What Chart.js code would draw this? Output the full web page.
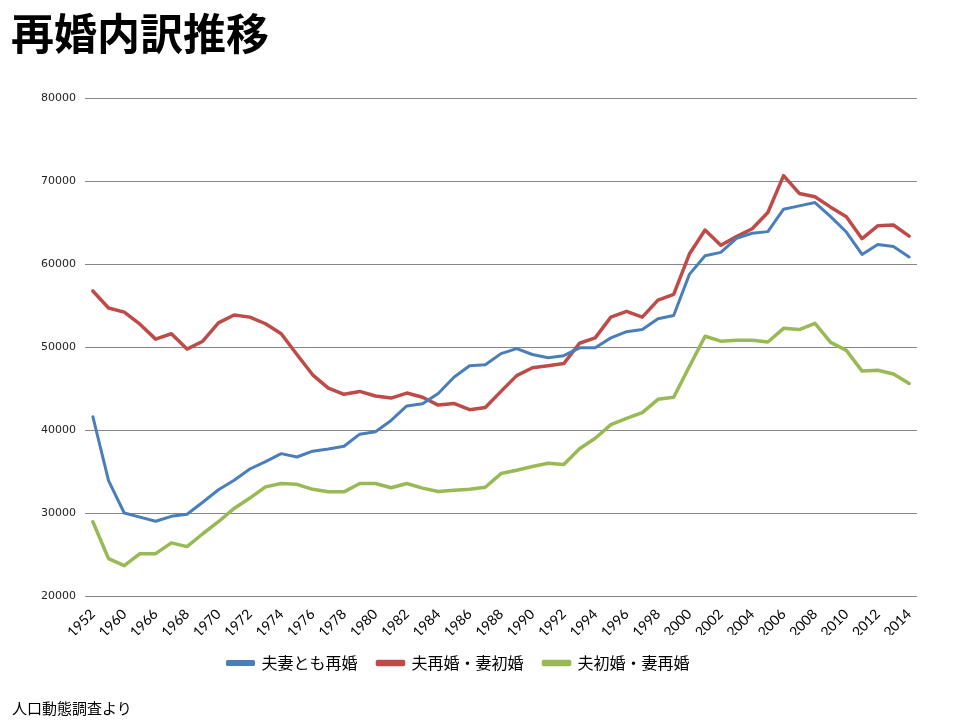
<!DOCTYPE html>
<html>
<head>
<meta charset="utf-8">
<script src="https://cdn.jsdelivr.net/npm/chart.js@4.4.1/dist/chart.umd.min.js"></script>
<style>
  body { margin: 0; background: #fff; }
  #wrap { position: relative; width: 960px; height: 720px; }
  #title { position: absolute; left: 11px; top: 10px; font: bold 43px "Noto Sans CJK JP"; line-height: 1; color: #000; }
  #source { position: absolute; left: 12px; top: 700px; font: 15px "Noto Sans CJK JP"; line-height: 1; color: #000; }
</style>
</head>
<body>
<div id="wrap">
  <canvas id="remarriage_chart" width="960" height="720"></canvas>
  <div id="title">再婚内訳推移</div>
  <div id="source">人口動態調査より</div>
</div>
<script>
var years = ["1952", "1955", "1960", "1965", "1966", "1967", "1968", "1969", "1970", "1971",
  "1972", "1973", "1974", "1975", "1976", "1977", "1978", "1979", "1980", "1981",
  "1982", "1983", "1984", "1985", "1986", "1987", "1988", "1989", "1990", "1991",
  "1992", "1993", "1994", "1995", "1996", "1997", "1998", "1999", "2000", "2001",
  "2002", "2003", "2004", "2005", "2006", "2007", "2008", "2009", "2010", "2011",
  "2012", "2013", "2014"];

// 夫妻とも再婚
var bothRemarried = [41600, 33900, 30000, 29500, 29000, 29600, 29850, 31300, 32800, 33950,
  35300, 36200, 37150, 36750, 37450, 37700, 38050, 39500, 39800, 41150,
  42900, 43150, 44400, 46350, 47750, 47850, 49200, 49800, 49100, 48700,
  48950, 49900, 49900, 51100, 51850, 52100, 53400, 53800, 58750, 61000,
  61400, 63100, 63700, 63900, 66600, 67000, 67400, 65700, 63850, 61150,
  62350, 62100, 60850];

// 夫再婚・妻初婚
var husbandRemarried = [56750, 54700, 54200, 52750, 50950, 51600, 49750, 50700, 52900, 53850,
  53600, 52800, 51600, 49100, 46650, 45050, 44300, 44650, 44100, 43850,
  44450, 43950, 43000, 43200, 42450, 42700, 44650, 46550, 47500, 47750,
  48000, 50450, 51100, 53600, 54300, 53600, 55650, 56350, 61200, 64100,
  62250, 63300, 64250, 66200, 70650, 68500, 68100, 66850, 65700, 63050,
  64600, 64700, 63350];

// 夫初婚・妻再婚
var wifeRemarried = [28950, 24500, 23650, 25100, 25100, 26400, 25950, 27500, 28950, 30550,
  31800, 33150, 33550, 33450, 32850, 32550, 32550, 33550, 33550, 33050,
  33550, 33000, 32600, 32750, 32850, 33100, 34750, 35150, 35600, 36000,
  35850, 37750, 39000, 40650, 41400, 42100, 43700, 43950, 47650, 51300,
  50700, 50800, 50800, 50600, 52250, 52100, 52850, 50550, 49600, 47100,
  47200, 46750, 45600];

var seriesNames = ["夫妻とも再婚", "夫再婚・妻初婚", "夫初婚・妻再婚"];
var seriesColors = ["#4A7EBB", "#BE4B48", "#98B954"];

var dataLine = {
  labels: years,
  datasets: [
    { label: seriesNames[0], data: bothRemarried, borderColor: seriesColors[0], backgroundColor: seriesColors[0], borderWidth: 3 },
    { label: seriesNames[1], data: husbandRemarried, borderColor: seriesColors[1], backgroundColor: seriesColors[1], borderWidth: 3.5 },
    { label: seriesNames[2], data: wifeRemarried, borderColor: seriesColors[2], backgroundColor: seriesColors[2], borderWidth: 3.5 }
  ]
};

var optionsLine = {
  responsive: false,
  animation: false,
  layout: { padding: { left: 0, right: 43, top: 98, bottom: 39 } },
  elements: {
    point: { radius: 0 },
    line: { tension: 0, fill: false, borderCapStyle: "round", borderJoinStyle: "round" }
  },
  plugins: {
    tooltip: { enabled: false },
    legend: {
      position: "bottom",
      labels: {
        boxWidth: 26,
        boxHeight: 3,
        padding: 20,
        color: "#000",
        font: { family: "Noto Sans CJK JP", size: 16 }
      }
    }
  },
  scales: {
    x: {
      offset: true,
      grid: { display: false },
      border: { display: false },
      ticks: {
        autoSkip: false,
        maxRotation: 45,
        minRotation: 45,
        padding: 2,
        color: "#000",
        font: { family: "Lato", size: 14 },
        callback: function (value, index) {
          return index % 2 === 0 ? years[index] : "";
        }
      },
      afterFit: function (scale) { scale.height = 39; }
    },
    y: {
      min: 20000,
      max: 80000,
      border: { display: false },
      grid: { color: "#868686", lineWidth: 1, drawTicks: false },
      ticks: {
        stepSize: 10000,
        padding: 9,
        color: "#222",
        font: { family: "DejaVu Sans", size: 11 },
        callback: function (value) { return String(value); }
      },
      afterFit: function (scale) { scale.width = 85; }
    }
  }
};

function start() {
  var ctx = document.getElementById("remarriage_chart").getContext("2d");
  var LineChart = new Chart(ctx, {
    type: "line",
    data: dataLine,
    options: optionsLine
  });
}

window.onload = start;
</script>
</body>
</html>
